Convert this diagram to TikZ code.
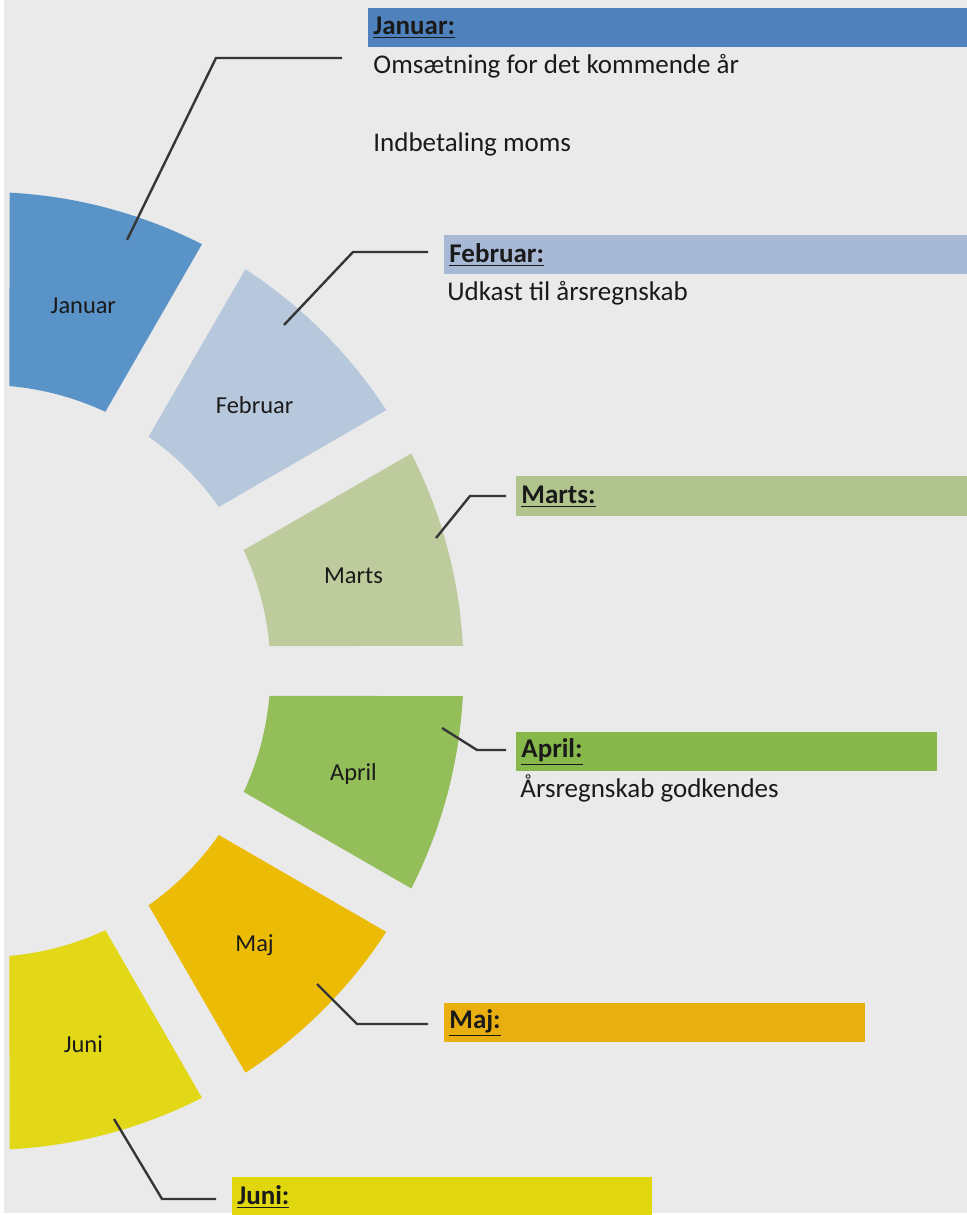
\documentclass[tikz,border=0pt]{standalone}
\usepackage{fontspec}
\setmainfont{Carlito}
\usetikzlibrary{positioning}

\definecolor{bgcol}{HTML}{EAEAEA}
\definecolor{txtcol}{HTML}{1A1A1A}
\definecolor{leadcol}{HTML}{363636}
\definecolor{janfill}{HTML}{5A93C8}
\definecolor{janbar}{HTML}{4F81BD}
\definecolor{febfill}{HTML}{B7C8DC}
\definecolor{febbar}{HTML}{A7B9D5}
\definecolor{marfill}{HTML}{BECB9C}
\definecolor{marbar}{HTML}{B2C48D}
\definecolor{aprfill}{HTML}{93BE5A}
\definecolor{aprbar}{HTML}{87B84B}
\definecolor{majfill}{HTML}{EBBB05}
\definecolor{majbar}{HTML}{E9AF10}
\definecolor{junfill}{HTML}{E3D818}
\definecolor{junbar}{HTML}{E1D70F}

\begin{document}
\begin{tikzpicture}[x=0.5pt,y=0.5pt]
        \tikzset{bar/.style={anchor=north west, inner xsep=2.5pt, inner ysep=0pt, minimum height=19.5pt, align=left, text=txtcol, font=\bfseries\fontsize{13.5}{16}\selectfont},
        note/.style={anchor=west, inner sep=0pt, text=txtcol, font=\fontsize{13.5}{16}\selectfont},
        mlabel/.style={text=txtcol, yshift=-2pt, font=\fontsize{12.2}{14}\selectfont},
        leader/.style={draw=leadcol, line width=1.2pt}
        }
        \useasboundingbox (0,0) rectangle (967,1215);
        \fill[white] (0,0) rectangle (967,1215);
        \fill[bgcol] (4,2) rectangle (967,1215);

%% ring
        \begin{scope}[shift={(-15.5,544)}]
        \fill[janfill] (63:479) arc[start angle=63, end angle=87, radius=479] -- (85:286) arc[start angle=85, end angle=65, radius=286] -- cycle;
        \fill[febfill] (33:479) arc[start angle=33, end angle=57, radius=479] -- (55:286) arc[start angle=55, end angle=35, radius=286] -- cycle;
        \fill[marfill] (3:479) arc[start angle=3, end angle=27, radius=479] -- (25:286) arc[start angle=25, end angle=5, radius=286] -- cycle;
        \fill[aprfill] (-27:479) arc[start angle=-27, end angle=-3, radius=479] -- (-5:286) arc[start angle=-5, end angle=-25, radius=286] -- cycle;
        \fill[majfill] (-57:479) arc[start angle=-57, end angle=-33, radius=479] -- (-35:286) arc[start angle=-35, end angle=-55, radius=286] -- cycle;
        \fill[junfill] (-87:479) arc[start angle=-87, end angle=-63, radius=479] -- (-65:286) arc[start angle=-65, end angle=-85, radius=286] -- cycle;

        \node[mlabel] (jan) at (75:382) {Januar};
        \node[mlabel] (feb) at (45:382) {Februar};
        \node[mlabel] (mar) at (15:382) {Marts};
        \node[mlabel] (apr) at (-15:382) {April};
        \node[mlabel] (maj) at (-45:382) {Maj};
        \node[mlabel] (jun) at (-75:382) {Juni};
        \end{scope}

%% bars
        \node[bar, fill=janbar, text width=294.5pt] (janhead) at (368,1207) {\underline{Januar:}};
        \node[bar, fill=febbar, text width=256.5pt] (febhead) at (444,980) {\underline{Februar:}};
        \node[bar, fill=marbar, text width=220.5pt, minimum height=20pt] (marhead) at (516,739) {\underline{Marts:}};
        \node[bar, fill=aprbar, text width=205.5pt] (aprhead) at (516,483) {\underline{April:}};
        \node[bar, fill=majbar, text width=205.5pt] (majhead) at (444,212) {\underline{Maj:}};
        \node[bar, fill=junbar, text width=205pt] (junhead) at (232,38) {\underline{Juni:}};

        \node[note] (jannote1) at (373,1149) {Omsætning for det kommende år};
        \node[note] (jannote2) at (373,1071) {Indbetaling moms};
        \node[note] (febnote) at (447,922) {Udkast til årsregnskab};
        \node[note] (aprnote) at (520,427) {Årsregnskab godkendes};

%% leaders
        \coordinate (janpt) at (127,975);  \coordinate (janknee) at (216,1157); \coordinate (janend) at (342,1157);
        \coordinate (febpt) at (284,890);  \coordinate (febknee) at (353,963);  \coordinate (febend) at (428,963);
        \coordinate (marpt) at (436,677);  \coordinate (marknee) at (470,719);  \coordinate (marend) at (506,719);
        \coordinate (aprpt) at (442,487);  \coordinate (aprknee) at (477,465);  \coordinate (aprend) at (506,465);
        \coordinate (majpt) at (317,231);  \coordinate (majknee) at (357,191);  \coordinate (majend) at (428,191);
        \coordinate (junpt) at (114,96);   \coordinate (junknee) at (162,16);   \coordinate (junend) at (216,16);

        \path[leader] (janpt) -- (janknee) -- (janend)
                      (febpt) -- (febknee) -- (febend)
                      (marpt) -- (marknee) -- (marend)
                      (aprpt) -- (aprknee) -- (aprend)
                      (majpt) -- (majknee) -- (majend)
                      (junpt) -- (junknee) -- (junend);
\end{tikzpicture}
\end{document}
